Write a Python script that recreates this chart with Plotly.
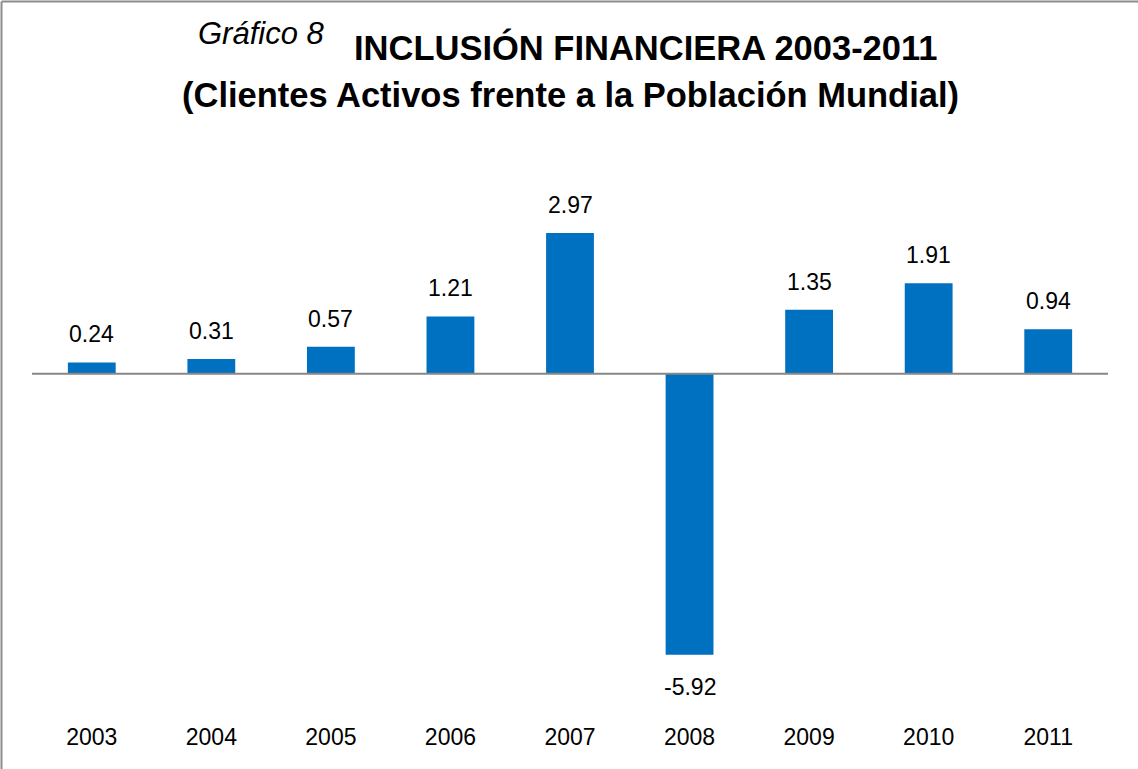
import plotly.graph_objects as go

years = ["2003", "2004", "2005", "2006", "2007", "2008", "2009", "2010", "2011"]
values = [0.24, 0.31, 0.57, 1.21, 2.97, -5.92, 1.35, 1.91, 0.94]
labels = ["0.24", "0.31", "0.57", "1.21", "2.97", "-5.92", "1.35", "1.91", "0.94"]

FONT = "Liberation Sans, Arial, sans-serif"
W, H = 1138, 769
L, R, T, B = 32, 30, 184, 48

fig = go.Figure()
fig.add_trace(go.Bar(
    x=years, y=values,
    marker=dict(color="#0070C0", line=dict(width=0)),
    hoverinfo="skip",
))

# data labels (x given as category index on the category axis)
for i, (v, lab) in enumerate(zip(values, labels)):
    if v >= 0:
        fig.add_annotation(x=i, y=v, text=lab, showarrow=False,
                           yanchor="bottom", yshift=13,
                           font=dict(family=FONT, size=23, color="#000000"))
    else:
        fig.add_annotation(x=i, y=v, text=lab, showarrow=False,
                           yanchor="top", yshift=-17,
                           font=dict(family=FONT, size=23, color="#000000"))

pw, ph = W - L - R, H - T - B

# titles
fig.add_annotation(xref="paper", yref="paper", x=(645 - L) / pw,
                   y=1 + (T - 47) / ph, text="<b>INCLUSIÓN FINANCIERA 2003-2011</b>",
                   showarrow=False, xanchor="center", yanchor="middle",
                   font=dict(family=FONT, size=34.5, color="#000000"))
fig.add_annotation(xref="paper", yref="paper", x=(570 - L) / pw,
                   y=1 + (T - 95) / ph,
                   text="<b>(Clientes Activos frente a la Población Mundial)</b>",
                   showarrow=False, xanchor="center", yanchor="middle",
                   font=dict(family=FONT, size=34.5, color="#000000"))
fig.add_annotation(xref="paper", yref="paper", x=(261 - L) / pw,
                   y=1 + (T - 33) / ph, text="<i>Gráfico 8</i>",
                   showarrow=False, xanchor="center", yanchor="middle",
                   font=dict(family=FONT, size=31, color="#000000"))

# outer border: only top and left edges are visible in the reference
fig.add_shape(type="line", xref="paper", yref="paper",
              x0=(1.5 - L) / pw, x1=(1.5 - L) / pw,
              y0=-(B + 10) / ph, y1=1 + (T - 1.5) / ph,
              line=dict(color="#8c8c8c", width=2))
fig.add_shape(type="line", xref="paper", yref="paper",
              x0=(1.5 - L) / pw, x1=(W + 10 - L) / pw,
              y0=1 + (T - 1.5) / ph, y1=1 + (T - 1.5) / ph,
              line=dict(color="#8c8c8c", width=2))

# horizontal category axis line crossing at zero
fig.add_shape(type="line", xref="x", yref="y", x0=-0.5, x1=len(years) - 0.5,
              y0=0, y1=0, line=dict(color="#878787", width=2), layer="above")

fig.update_layout(
    width=W, height=H,
    margin=dict(l=L, r=R, t=T, b=B),
    paper_bgcolor="white", plot_bgcolor="white",
    bargap=0.6, showlegend=False,
    font=dict(family=FONT, size=23, color="#000000"),
    xaxis=dict(type="category", range=[-0.5, len(years) - 0.5], autorange=False,
               showgrid=False, showline=False, ticks="", zeroline=False,
               tickfont=dict(family=FONT, size=23, color="#000000"), fixedrange=True),
    yaxis=dict(range=[-7.316, 4], autorange=False, showgrid=False, showticklabels=False,
               ticks="", showline=False, zeroline=False, fixedrange=True),
)

fig.write_html("out.html", config={"displayModeBar": False},
               post_script="document.body.style.margin='0';document.body.style.overflow='hidden';")
